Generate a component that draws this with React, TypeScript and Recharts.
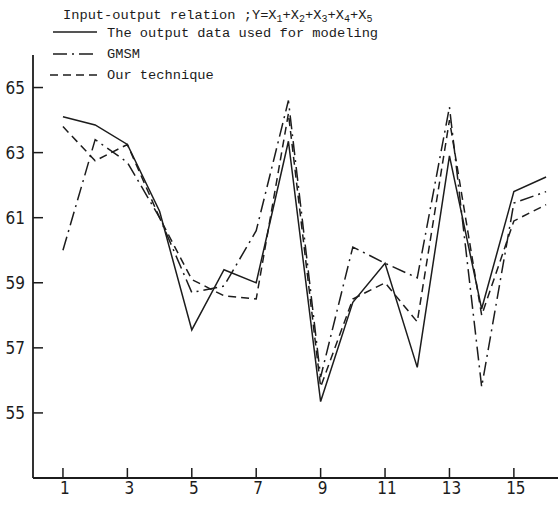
import React from 'react';
import { LineChart, Line, XAxis, YAxis, Customized } from 'recharts';

const xValues = [1, 2, 3, 4, 5, 6, 7, 8, 9, 10, 11, 12, 13, 14, 15, 16];
const outputData = [64.1, 63.85, 63.25, 61.2, 57.55, 59.4, 59.0, 63.35, 55.35, 58.4, 59.6, 56.4, 62.9, 58.2, 61.8, 62.25];
const gmsmData = [60.0, 63.4, 62.7, 61.0, 58.7, 58.9, 60.6, 64.6, 56.1, 60.1, 59.6, 59.15, 64.4, 55.8, 61.45, 61.8];
const oursData = [63.8, 62.75, 63.25, 61.0, 59.1, 58.6, 58.5, 64.2, 55.8, 58.5, 59.0, 57.8, 64.0, 58.0, 60.9, 61.4];
const xTicks = [1, 3, 5, 7, 9, 11, 13, 15];
const yTicks = [55, 57, 59, 61, 63, 65];
const legendLabels = ['The output data used for modeling', 'GMSM', 'Our technique'];

const data = xValues.map((x, i) => ({ x, output: outputData[i], gmsm: gmsmData[i], ours: oursData[i] }));

const INK = '#1c1c1c';
const TICK_FONT = '"Liberation Sans Narrow", "DejaVu Sans Condensed", "Noto Sans", sans-serif';
const MONO = '"Liberation Mono", "DejaVu Sans Mono", monospace';

const XTick = (props: any) => {
  const { x, y, payload } = props;
  return (
    <g>
      <line x1={x} y1={y} x2={x} y2={y - 10} stroke={INK} strokeWidth={1.5} />
      <text x={x + 2} y={y + 16} textAnchor="middle" fontFamily={TICK_FONT} fontSize={17} fill={INK}>
        {payload.value}
      </text>
    </g>
  );
};

const YTick = (props: any) => {
  const { x, y, payload } = props;
  return (
    <g>
      <line x1={x} y1={y} x2={x + 10} y2={y} stroke={INK} strokeWidth={1.5} />
      <text x={x - 8} y={y} dy="0.36em" textAnchor="end" fontFamily={TICK_FONT} fontSize={17} fill={INK}>
        {payload.value}
      </text>
    </g>
  );
};

const Sub = ({ n }: { n: number }) => (
  <>
    <tspan>X</tspan>
    <tspan dy={3} fontSize={10}>{n}</tspan>
    <tspan dy={-3}>{n < 5 ? '+' : ''}</tspan>
  </>
);

const LegendBlock = () => (
  <g fontFamily={MONO} fontSize={13.7} fill={INK}>
    <text x={63} y={19}>
      <tspan>Input-output relation ;Y=</tspan>
      {[1, 2, 3, 4, 5].map((n) => (
        <Sub key={n} n={n} />
      ))}
    </text>
    <line x1={53} y1={32} x2={97} y2={32} stroke={INK} strokeWidth={1.4} />
    <text x={107} y={37}>{legendLabels[0]}</text>
    <line x1={53} y1={54} x2={97} y2={54} stroke={INK} strokeWidth={1.4} strokeDasharray="14 5 2 5" />
    <text x={107} y={58}>{legendLabels[1]}</text>
    <line x1={50} y1={75} x2={97} y2={75} stroke={INK} strokeWidth={1.4} strokeDasharray="8 5" />
    <text x={107} y={79}>{legendLabels[2]}</text>
  </g>
);

export default function App() {
  return (
    <div style={{ position: 'absolute', left: 0, top: 0, width: 558, height: 506, background: '#fff' }}>
      <LineChart width={558} height={506} data={data} margin={{ top: 55, right: 0, bottom: 0, left: 0 }}>
        <XAxis
          dataKey="x"
          type="number"
          domain={[0.07, 16.37]}
          ticks={xTicks}
          interval={0}
          height={28}
          tickSize={0}
          tickMargin={0}
          tick={<XTick />}
          axisLine={{ stroke: INK, strokeWidth: 1.8 }}
          tickLine={false}
          allowDataOverflow
        />
        <YAxis
          type="number"
          domain={[53, 66]}
          ticks={yTicks}
          interval={0}
          width={33}
          tickSize={0}
          tickMargin={0}
          tick={<YTick />}
          axisLine={{ stroke: INK, strokeWidth: 1.8 }}
          tickLine={false}
          allowDataOverflow
        />
        <Line dataKey="output" type="linear" stroke={INK} strokeWidth={1.5} dot={false} isAnimationActive={false} />
        <Line dataKey="gmsm" type="linear" stroke={INK} strokeWidth={1.5} strokeDasharray="14 5 2 5" dot={false} isAnimationActive={false} />
        <Line dataKey="ours" type="linear" stroke={INK} strokeWidth={1.5} strokeDasharray="8 5" dot={false} isAnimationActive={false} />
        <Customized component={LegendBlock} />
      </LineChart>
    </div>
  );
}
